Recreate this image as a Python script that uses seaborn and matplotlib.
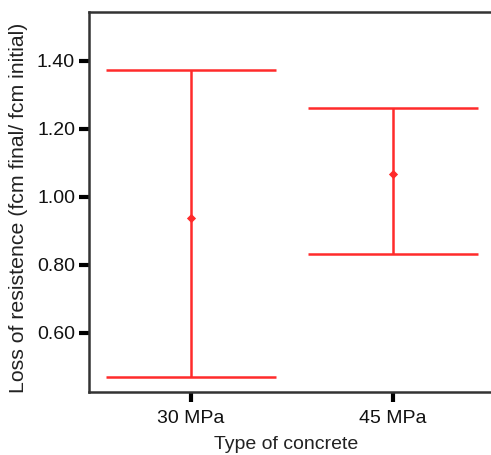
import matplotlib
matplotlib.use("Agg")
import matplotlib.pyplot as plt
import seaborn as sns
import pandas as pd

categories = ["30 MPa", "45 MPa"]
means = [0.938, 1.067]
lower = [0.470, 0.832]
upper = [1.374, 1.263]
yticks = [0.60, 0.80, 1.00, 1.20, 1.40]

sns.set_theme(style="white")
plt.rcParams["font.family"] = ["Liberation Sans", "DejaVu Sans"]

RED = "#ff2b2b"
fig = plt.figure(figsize=(4.91, 4.55), dpi=100)
# axes: left 89px, right ~495px (off-image), top 12px, bottom 392px
L, R, T, B = 89, 495, 12, 392
ax = fig.add_axes([L / 491, 1 - B / 455, (R - L) / 491, (B - T) / 455])

df = pd.DataFrame({"type": categories, "mean": means, "lo": lower, "hi": upper})
pos = list(range(len(categories)))
cap = 0.42
ax.vlines(pos, df["lo"], df["hi"], color=RED, lw=1.8, zorder=2)
ax.hlines(df["lo"], [p - cap for p in pos], [p + cap for p in pos], color=RED, lw=1.8, zorder=2)
ax.hlines(df["hi"], [p - cap for p in pos], [p + cap for p in pos], color=RED, lw=1.8, zorder=2)
sns.scatterplot(x=pos, y=df["mean"], marker="D", s=22, color=RED, edgecolor=RED, linewidth=0, ax=ax, zorder=3)

ax.set_xlim(-0.505, 1.505)
ax.set_ylim(0.426, 1.544)
ax.set_xticks(pos)
ax.set_xticklabels(categories)
ax.set_yticks(yticks)
ax.set_yticklabels([f"{v:.2f}" for v in yticks])
ax.tick_params(axis="both", which="both", direction="out", colors="black", labelcolor="#111111",
               labelsize=14, length=7, width=3, pad=3, left=True, bottom=True)
ax.tick_params(axis="x", pad=6)
for s in ["left", "bottom", "top"]:
    ax.spines[s].set_color("#333333")
    ax.spines[s].set_linewidth(1.8)
ax.spines["right"].set_visible(False)
ax.set_xlabel("Type of concrete", fontsize=14, color="#222222")
ax.set_ylabel("Loss of resistence (fcm final/ fcm initial)", fontsize=15.3, color="#222222")
ax.xaxis.set_label_coords((286 - L) / (R - L), -(449 - B) / (B - T))
ax.xaxis.label.set_va("baseline")
ax.yaxis.set_label_coords(-(L - 28) / (R - L), (B - 208) / (B - T))
fig.savefig("out.png", dpi=100)
